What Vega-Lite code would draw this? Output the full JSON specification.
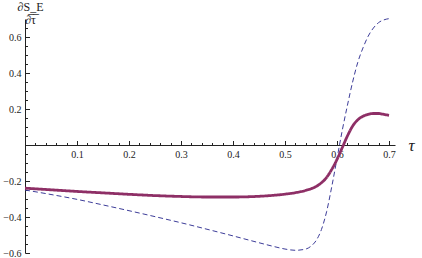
{
  "$schema": "https://vega.github.io/schema/vega-lite/v6.json",
  "width": 370,
  "height": 234,
  "autosize": {"type": "none"},
  "padding": {"left": 25, "top": 19, "right": 27, "bottom": 5},
  "background": "white",
  "config": {"view": {"stroke": null}, "font": "Liberation Serif"},
  "data": {"values": [
    {"tau": 0.0, "v": -0.25, "s": "dashed"},
    {"tau": 0.05, "v": -0.275, "s": "dashed"},
    {"tau": 0.1, "v": -0.302, "s": "dashed"},
    {"tau": 0.15, "v": -0.333, "s": "dashed"},
    {"tau": 0.2, "v": -0.365, "s": "dashed"},
    {"tau": 0.25, "v": -0.398, "s": "dashed"},
    {"tau": 0.3, "v": -0.432, "s": "dashed"},
    {"tau": 0.35, "v": -0.468, "s": "dashed"},
    {"tau": 0.4, "v": -0.505, "s": "dashed"},
    {"tau": 0.45, "v": -0.543, "s": "dashed"},
    {"tau": 0.48, "v": -0.565, "s": "dashed"},
    {"tau": 0.5, "v": -0.578, "s": "dashed"},
    {"tau": 0.52, "v": -0.585, "s": "dashed"},
    {"tau": 0.54, "v": -0.578, "s": "dashed"},
    {"tau": 0.55, "v": -0.562, "s": "dashed"},
    {"tau": 0.56, "v": -0.53, "s": "dashed"},
    {"tau": 0.57, "v": -0.47, "s": "dashed"},
    {"tau": 0.58, "v": -0.37, "s": "dashed"},
    {"tau": 0.59, "v": -0.23, "s": "dashed"},
    {"tau": 0.6, "v": -0.075, "s": "dashed"},
    {"tau": 0.61, "v": 0.08, "s": "dashed"},
    {"tau": 0.62, "v": 0.22, "s": "dashed"},
    {"tau": 0.63, "v": 0.35, "s": "dashed"},
    {"tau": 0.64, "v": 0.46, "s": "dashed"},
    {"tau": 0.65, "v": 0.54, "s": "dashed"},
    {"tau": 0.66, "v": 0.605, "s": "dashed"},
    {"tau": 0.67, "v": 0.65, "s": "dashed"},
    {"tau": 0.68, "v": 0.68, "s": "dashed"},
    {"tau": 0.69, "v": 0.695, "s": "dashed"},
    {"tau": 0.7, "v": 0.702, "s": "dashed"},
    {"tau": 0.0, "v": -0.24, "s": "solid"},
    {"tau": 0.05, "v": -0.249, "s": "solid"},
    {"tau": 0.1, "v": -0.258, "s": "solid"},
    {"tau": 0.15, "v": -0.266, "s": "solid"},
    {"tau": 0.2, "v": -0.274, "s": "solid"},
    {"tau": 0.25, "v": -0.281, "s": "solid"},
    {"tau": 0.3, "v": -0.286, "s": "solid"},
    {"tau": 0.35, "v": -0.289, "s": "solid"},
    {"tau": 0.4, "v": -0.289, "s": "solid"},
    {"tau": 0.45, "v": -0.285, "s": "solid"},
    {"tau": 0.48, "v": -0.279, "s": "solid"},
    {"tau": 0.5, "v": -0.273, "s": "solid"},
    {"tau": 0.52, "v": -0.265, "s": "solid"},
    {"tau": 0.54, "v": -0.252, "s": "solid"},
    {"tau": 0.56, "v": -0.23, "s": "solid"},
    {"tau": 0.57, "v": -0.21, "s": "solid"},
    {"tau": 0.58, "v": -0.18, "s": "solid"},
    {"tau": 0.59, "v": -0.135, "s": "solid"},
    {"tau": 0.6, "v": -0.08, "s": "solid"},
    {"tau": 0.61, "v": -0.015, "s": "solid"},
    {"tau": 0.62, "v": 0.05, "s": "solid"},
    {"tau": 0.63, "v": 0.105, "s": "solid"},
    {"tau": 0.64, "v": 0.14, "s": "solid"},
    {"tau": 0.65, "v": 0.16, "s": "solid"},
    {"tau": 0.66, "v": 0.17, "s": "solid"},
    {"tau": 0.67, "v": 0.175, "s": "solid"},
    {"tau": 0.68, "v": 0.175, "s": "solid"},
    {"tau": 0.69, "v": 0.17, "s": "solid"},
    {"tau": 0.7, "v": 0.165, "s": "solid"}
  ]},
  "mark": {"type": "line", "interpolate": "monotone"},
  "encoding": {
    "x": {
      "field": "tau", "type": "quantitative",
      "scale": {"domain": [0, 0.7115], "nice": false, "zero": false},
      "axis": {
        "values": [0.02,0.04,0.06,0.08,0.1,0.12,0.14,0.16,0.18,0.2,0.22,0.24,0.26,0.28,0.3,0.32,0.34,0.36,0.38,0.4,0.42,0.44,0.46,0.48,0.5,0.52,0.54,0.56,0.58,0.6,0.62,0.64,0.66,0.68,0.7],
        "offset": -108,
        "grid": false,
        "domainColor": "#222",
        "domainWidth": 1,
        "tickColor": "#222",
        "tickSize": {"condition": {"test": "abs(datum.value*10 - round(datum.value*10)) < 0.01", "value": -4.5}, "value": -2.5},
        "labelExpr": "abs(datum.value*10 - round(datum.value*10)) < 0.01 ? format(datum.value, '.1f') : ''",
        "labelFont": "Liberation Serif",
        "labelFontSize": 10,
        "labelColor": "#222",
        "labelPadding": 9,
        "labelFlush": false,
        "labelOverlap": false,
        "title": "τ",
        "titleFont": "Liberation Serif",
        "titleFontSize": 17,
        "titleFontStyle": "italic",
        "titleFontWeight": "normal",
        "titleColor": "#222",
        "titleX": 386,
        "titleY": 0,
        "titleBaseline": "middle",
        "titleAlign": "center"
      }
    },
    "y": {
      "field": "v", "type": "quantitative",
      "scale": {"domain": [-0.6, 0.7], "nice": false, "zero": false},
      "axis": {
        "values": [-0.6,-0.55,-0.5,-0.45,-0.4,-0.35,-0.3,-0.25,-0.2,-0.15,-0.1,-0.05,0.05,0.1,0.15,0.2,0.25,0.3,0.35,0.4,0.45,0.5,0.55,0.6,0.65],
        "grid": false,
        "domainColor": "#222",
        "domainWidth": 1,
        "tickColor": "#222",
        "tickSize": {"condition": {"test": "abs(datum.value*5 - round(datum.value*5)) < 0.01", "value": -4.5}, "value": -2.5},
        "labelExpr": "abs(datum.value*5 - round(datum.value*5)) < 0.01 ? format(datum.value, '.1f') : ''",
        "labelFont": "Liberation Serif",
        "labelFontSize": 10,
        "labelColor": "#222",
        "labelPadding": 8.5,
        "labelFlush": false,
        "labelOverlap": false,
        "title": ["∂S_E", "∂̅τ̅"],
        "titleFont": "Liberation Serif",
        "titleFontSize": 12,
        "titleFontWeight": "normal",
        "titleColor": "#222",
        "titleAngle": 0,
        "titleAlign": "center",
        "titleBaseline": "alphabetic",
        "titleLineHeight": 13,
        "titleX": 5,
        "titleY": -9
      }
    },
    "color": {"field": "s", "type": "nominal", "legend": null,
      "scale": {"domain": ["dashed", "solid"], "range": ["#3D3D99", "#8E2F66"]}},
    "strokeWidth": {"field": "s", "type": "nominal", "legend": null,
      "scale": {"domain": ["dashed", "solid"], "range": [1, 2.8]}},
    "strokeDash": {"field": "s", "type": "nominal", "legend": null,
      "scale": {"domain": ["dashed", "solid"], "range": [[5, 3], [1, 0]]}}
  }
}
